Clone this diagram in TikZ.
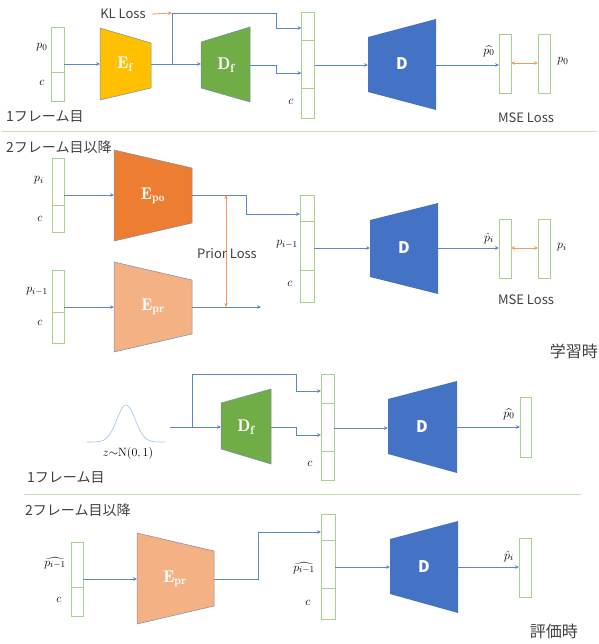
\documentclass[tikz,border=0pt]{standalone}
\usepackage{fontspec}
\usepackage{amsmath}
\newfontfamily\jp{Noto Sans CJK JP}
\usetikzlibrary{arrows.meta}
\definecolor{bxg}{HTML}{A9D18E}
\definecolor{sepg}{HTML}{C5E0B4}
\definecolor{lnl}{HTML}{5B86CF}
\definecolor{orgl}{HTML}{F39A5C}
\definecolor{yel}{HTML}{FFC000}
\definecolor{grn}{HTML}{70AD47}
\definecolor{blu}{HTML}{4472C4}
\definecolor{orn}{HTML}{ED7D31}
\definecolor{pch}{HTML}{F4B183}
\definecolor{txt}{HTML}{404040}
\definecolor{gss}{HTML}{9DC3E6}
\definecolor{tb}{HTML}{7B8DAE}
\tikzset{
  vbox/.style={draw=bxg, line width=0.8pt, fill=white, inner sep=0pt, outer sep=0pt},
  divl/.style={draw=bxg, line width=0.8pt},
  wire/.style={draw=lnl, line width=0.7pt},
  conn/.style={draw=lnl, line width=0.7pt, -{Stealth[length=4pt,width=3.6pt]}},
  loss/.style={draw=orgl, line width=0.8pt, {Stealth[length=4pt,width=3.6pt]}-{Stealth[length=4pt,width=3.6pt]}},
  lossr/.style={draw=orgl, line width=0.8pt, -{Stealth[length=4pt,width=3.6pt]}},
  jtext/.style={font=\jp\fontsize{14}{16}\selectfont, text=txt, inner sep=0pt},
  ltext/.style={font=\jp\fontsize{13}{15}\selectfont, text=txt, inner sep=0pt},
  big/.style={font=\jp\fontsize{16}{18}\selectfont, text=txt, inner sep=0pt},
  mlab/.style={font=\fontsize{12.5}{14}\selectfont, inner sep=0pt},
  elab/.style={font=\fontsize{17}{19}\selectfont, text=white, inner sep=0pt},
  dlab/.style={font=\jp\bfseries\fontsize{16}{18}\selectfont, text=white, inner sep=0pt},
  encshape/.style={draw=tb, line width=0.5pt},
}
\begin{document}
\begin{tikzpicture}[x=1pt,y=-1pt]
\useasboundingbox (0,0) rectangle (598,644);

% ===================== Section 1 =====================
\node[vbox, minimum width=13pt, minimum height=74pt] (b1) at (57.5,64) {};
\draw[divl] (b1.west |- 0,72) -- (b1.east |- 0,72);
\node[mlab] (b1p) at (42,47) {$p_0$};
\node[mlab] (b1c) at (42,83) {$c$};

\fill[yel, encshape] (100,28) -- (151,43) -- (151,88) -- (100,100) -- cycle;
\coordinate (Efin) at (100,64); \coordinate (Efout) at (151,64);
\node[elab] (Ef) at (125,64) {$\mathbf{E_f}$};

\fill[grn, encshape] (201,42) -- (250,27) -- (250,102) -- (201,88) -- cycle;
\coordinate (Dfin) at (201,64); \coordinate (Dfout) at (250,65);
\node[elab] (Df) at (226,65) {$\mathbf{D_f}$};

\node[vbox, minimum width=13pt, minimum height=106pt] (b2) at (308,65) {};
\draw[divl] (b2.west |- 0,40) -- (b2.east |- 0,40);
\draw[divl] (b2.west |- 0,88) -- (b2.east |- 0,88);
\node[mlab] (b2c) at (291,102) {$c$};

\draw[conn] (b1.east |- Efin) -- (Efin);
\draw[conn] (Efout) -- (Dfin);
\coordinate (br1) at (172,64);
\coordinate (kl) at (172,13);
\draw[conn] (br1) -- (kl) -- (276,13) -- (276,28) -- (b2.west |- 0,28);
\draw[conn] (Dfout) -- (276,65) -- (276,73) -- (b2.west |- 0,73);
\node[ltext] (klt) at (123,14) {KL Loss};
\draw[lossr] (152,14) -- (kl);

\fill[blu] (368,37) -- (436,19) -- (436,110) -- (368,92) -- cycle;
\coordinate (D1in) at (368,65); \coordinate (D1out) at (436,65);
\node[dlab] (D1) at (402,64) {D};
\draw[conn] (b2.east |- D1in) -- (D1in);

\node[vbox, minimum width=12pt, minimum height=59pt] (o1) at (505,63.5) {};
\node[vbox, minimum width=12pt, minimum height=59pt] (t1) at (544,63.5) {};
\draw[conn] (D1out) -- (o1.west |- D1out);
\node[mlab] (o1l) at (489,51) {$\widehat{p_0}$};
\draw[loss] (o1.east |- 0,63) -- (t1.west |- 0,63);
\node[mlab] (t1l) at (563,61) {$p_0$};
\node[ltext] (mse1) at (526,118) {MSE Loss};
\node[jtext, anchor=west] (s1) at (6,117) {1フレーム目};

\draw[sepg, line width=1pt] (2,132) -- (597,132);

% ===================== Section 2 =====================
\node[jtext, anchor=west] (s2) at (6,147) {2フレーム目以降};

\node[vbox, minimum width=12pt, minimum height=74pt] (b3) at (58,195) {};
\draw[divl] (b3.west |- 0,205) -- (b3.east |- 0,205);
\node[mlab] (b3p) at (39,180) {$p_i$};
\node[mlab] (b3c) at (40,219) {$c$};

\fill[orn, encshape] (114,150) -- (192,168) -- (192,223) -- (114,241) -- cycle;
\coordinate (Epoin) at (114,195); \coordinate (Epoout) at (192,195);
\node[elab] (Epo) at (153,196) {$\mathbf{E_{po}}$};
\draw[conn] (b3.east |- Epoin) -- (Epoin);

\node[vbox, minimum width=12pt, minimum height=73pt] (b5) at (58,306.5) {};
\draw[divl] (b5.west |- 0,312) -- (b5.east |- 0,312);
\node[mlab] (b5p) at (37,291) {$p_{i-1}$};
\node[mlab] (b5c) at (40,323) {$c$};

\fill[pch, encshape] (114,262) -- (192,280) -- (192,334) -- (114,352) -- cycle;
\coordinate (Eprin) at (114,307); \coordinate (Eprout) at (192,307);
\node[elab] (Epr) at (153,307) {$\mathbf{E_{pr}}$};
\draw[conn] (b5.east |- Eprin) -- (Eprin);
\coordinate (prend) at (261,307);
\draw[conn] (Eprout) -- (prend);

\node[vbox, minimum width=14pt, minimum height=107pt] (b4) at (307,248.5) {};
\draw[divl] (b4.west |- 0,221) -- (b4.east |- 0,221);
\draw[divl] (b4.west |- 0,270) -- (b4.east |- 0,270);
\draw[conn] (Epoout) -- (246,195) -- (246,214) -- (b4.west |- 0,214);
\node[mlab] (b4p) at (287,244) {$p_{i-1}$};
\node[mlab] (b4c) at (290,284) {$c$};

\coordinate (pa) at (226,195); \coordinate (pb) at (226,307);
\draw[loss] (pa) -- (pb);
\node[ltext] (prior) at (227,254) {Prior Loss};

\fill[blu] (370,220) -- (438,203) -- (438,294) -- (370,277) -- cycle;
\coordinate (D2in) at (370,248); \coordinate (D2out) at (438,248);
\node[dlab] (D2) at (404,248) {D};
\draw[conn] (b4.east |- D2in) -- (D2in);

\node[vbox, minimum width=12pt, minimum height=59pt] (o2) at (505,248.5) {};
\node[vbox, minimum width=12pt, minimum height=59pt] (t2) at (544,248.5) {};
\draw[conn] (D2out) -- (o2.west |- D2out);
\node[mlab] (o2l) at (489,238) {$\hat{p}_i$};
\draw[loss] (o2.east |- 0,248) -- (t2.west |- 0,248);
\node[mlab] (t2l) at (562,247) {$p_i$};
\node[ltext] (mse2) at (526,300) {MSE Loss};
\node[big, anchor=east] (train) at (598,351) {学習時};

% ===================== Section 3 =====================
\draw[gss, line width=0.6pt] plot[domain=87:165, samples=80, smooth] (\x, {442-37*exp(0-((\x-126)/13)^2)});
\node[mlab, font=\fontsize{12}{14}\selectfont] (zlab) at (128,453) {$z{\sim}\mathrm{N}(0,1)$};

\fill[grn, encshape] (221,403) -- (271,389) -- (271,464) -- (221,449) -- cycle;
\coordinate (Df2in) at (221,427); \coordinate (Df2out) at (271,427);
\node[elab] (Df2) at (246,427) {$\mathbf{D_f}$};

\node[vbox, minimum width=13pt, minimum height=106pt] (b6) at (327.5,427) {};
\draw[divl] (b6.west |- 0,403) -- (b6.east |- 0,403);
\draw[divl] (b6.west |- 0,451) -- (b6.east |- 0,451);
\node[mlab] (b6c) at (310,464) {$c$};

\coordinate (zs) at (170,427);
\coordinate (br3) at (192,427);
\draw[conn] (zs) -- (Df2in);
\draw[conn] (br3) -- (192,374) -- (296,374) -- (296,391) -- (b6.west |- 0,391);
\draw[conn] (Df2out) -- (296,427) -- (296,435) -- (b6.west |- 0,435);

\fill[blu] (388,399) -- (457,381) -- (457,473) -- (388,454) -- cycle;
\coordinate (D3in) at (388,428); \coordinate (D3out) at (457,427);
\node[dlab] (D3) at (422,427) {D};
\draw[conn] (b6.east |- D3in) -- (D3in);

\node[vbox, minimum width=11pt, minimum height=60pt] (o3) at (525.5,427) {};
\draw[conn] (D3out) -- (o3.west |- D3out);
\node[mlab] (o3l) at (509,414) {$\widehat{p_0}$};
\node[jtext, anchor=west] (s3) at (27,478) {1フレーム目};

\draw[sepg, line width=1pt] (24,494) -- (581,494);

% ===================== Section 4 =====================
\node[jtext, anchor=west] (s4) at (25,510) {2フレーム目以降};

\node[vbox, minimum width=12pt, minimum height=74pt] (b7) at (77,579) {};
\draw[divl] (b7.west |- 0,587) -- (b7.east |- 0,587);
\node[mlab] (b7p) at (55,563) {$\widehat{p_{i-1}}$};
\node[mlab] (b7c) at (59,600) {$c$};

\fill[pch, encshape] (137,533) -- (214,551) -- (214,606) -- (137,624) -- cycle;
\coordinate (Epr2in) at (137,579); \coordinate (Epr2out) at (214,579);
\node[elab] (Epr2) at (175,579) {$\mathbf{E_{pr}}$};
\draw[conn] (b7.east |- Epr2in) -- (Epr2in);

\node[vbox, minimum width=14pt, minimum height=105pt] (b8) at (328,566.5) {};
\draw[divl] (b8.west |- 0,540) -- (b8.east |- 0,540);
\draw[divl] (b8.west |- 0,588) -- (b8.east |- 0,588);
\draw[conn] (Epr2out) -- (258,579) -- (258,532) -- (b8.west |- 0,532);
\node[mlab] (b8p) at (304,568) {$\widehat{p_{i-1}}$};
\node[mlab] (b8c) at (308,603) {$c$};

\fill[blu] (390,539) -- (458,521) -- (458,613) -- (390,594) -- cycle;
\coordinate (D4in) at (390,567); \coordinate (D4out) at (458,567);
\node[dlab] (D4) at (424,567) {D};
\draw[conn] (b8.east |- D4in) -- (D4in);

\node[vbox, minimum width=12pt, minimum height=59pt] (o4) at (525,567.5) {};
\draw[conn] (D4out) -- (o4.west |- D4out);
\node[mlab] (o4l) at (509,556) {$\hat{p}_i$};
\node[big, anchor=east] (evalt) at (578,631) {評価時};
\end{tikzpicture}
\end{document}
